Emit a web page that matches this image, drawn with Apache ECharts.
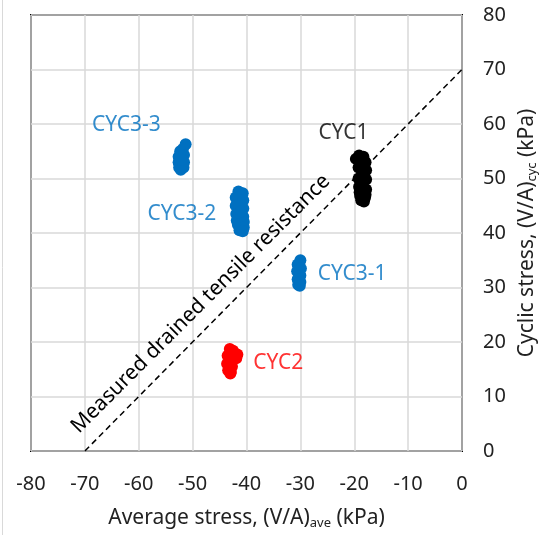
<!DOCTYPE html>
<html><head><meta charset="utf-8">
<script src="https://cdn.jsdelivr.net/npm/echarts@6/dist/echarts.min.js"></script>
<style>html,body{margin:0;padding:0;background:#fff}#c{width:551px;height:535px}</style>
</head><body><div id="c"></div>
<script>
// Tick labels / axis ranges
const xTicks = [-80,-70,-60,-50,-40,-30,-20,-10,0];
const yTicks = [0,10,20,30,40,50,60,70,80];

// Series data (average stress x, cyclic stress y)
const cyc1X = [-19.7,-19.1,-18.3,-17.9,-19.2,-17.8,-19.2,-17.8,-19.1,-17.8,-19.0,-17.9,-18.9,-18.0,-18.7,-18.2,-18.5,-18.5];
const cyc1Y = [53.6,54.2,54.0,53.0,52.0,51.5,50.0,49.8,48.5,48.0,47.5,47.0,46.8,46.5,46.0,45.8,50.5,48.0];
const cyc2X = [-43.1,-42.5,-41.7,-41.9,-43.5,-42.8,-43.6,-42.7,-43.4,-42.9,-43.0];
const cyc2Y = [18.7,18.4,17.7,17.0,17.5,16.5,16.0,15.5,14.8,14.5,14.2];
const cyc31X = [-30.0,-30.5,-29.9,-30.6,-30.0,-30.5,-30.0,-30.4,-30.1];
const cyc31Y = [35.0,34.2,33.5,33.0,32.2,31.5,31.0,30.5,30.3];
const cyc32X = [-41.5,-40.7,-42.0,-40.6,-42.0,-40.6,-41.9,-40.6,-41.8,-40.5,-41.6,-40.5,-41.3,-40.7,-41.0];
const cyc32Y = [47.6,47.3,46.5,46.0,45.0,44.5,43.5,43.0,42.3,42.0,41.5,41.0,40.5,40.3,44.0];
const cyc33X = [-51.3,-51.8,-52.3,-52.6,-51.6,-52.6,-51.6,-52.5,-51.7,-52.2,-52.0];
const cyc33Y = [56.3,55.4,55.0,54.0,54.3,53.0,53.0,52.0,52.0,51.6,53.5];

// Measured drained tensile resistance line
const resistX = [-70, 0];
const resistY = [0, 70];

// Cluster labels: [name, x, y]
const labelNames = ['CYC1','CYC2','CYC3-1','CYC3-2','CYC3-3'];
const labelX = [-22.0,-34.1,-20.4,-52.0,-62.3];
const labelY = [58.4,16.1,32.5,43.5,59.9];
const labelColors = ['#000000','#ff0000','#0070c0','#0070c0','#0070c0'];

const FONT = 'Noto Sans';
const zip = (a,b) => a.map((v,i)=>[v,b[i]]);

const chart = echarts.init(document.getElementById('c'));
function sc(name, xs, ys, color){
  return {name, type:'scatter', data: zip(xs,ys), symbolSize: 12,
    itemStyle:{color, opacity:1}, z:3, silent:true};
}
const option = {
  animation:false,
  textStyle:{fontFamily:FONT},
  grid:{left:31, right:89, top:15, bottom:82, show:true, borderColor:'#000', borderWidth:2, backgroundColor:'transparent'},
  xAxis:{type:'value', min:-80, max:0, interval:10,
    axisLine:{show:false}, axisTick:{show:false},
    splitLine:{show:true, lineStyle:{color:'#d9d9d9', width:1.5}},
    axisLabel:{fontSize:20, color:'#222', margin:23, fontFamily:FONT},
    name:'Average stress, (V/A){sub|ave} (kPa)', nameLocation:'middle', nameGap:56,
    nameTextStyle:{fontSize:21, color:'#222', fontFamily:FONT, rich:{sub:{fontSize:13, verticalAlign:'bottom', padding:[10,0,0,0], color:'#222'}}}
  },
  yAxis:{type:'value', position:'right', min:0, max:80, interval:10,
    axisLine:{show:false}, axisTick:{show:false},
    splitLine:{show:true, lineStyle:{color:'#d9d9d9', width:1.5}},
    axisLabel:{fontSize:20, color:'#222', margin:21, fontFamily:FONT},
    name:'Cyclic stress, (V/A){sub|cyc} (kPa)', nameLocation:'middle', nameGap:54, nameRotate:90,
    nameTextStyle:{fontSize:21, color:'#222', fontFamily:FONT, rich:{sub:{fontSize:13, verticalAlign:'bottom', padding:[10,0,0,0], color:'#222'}}}
  },
  series:[
    {type:'line', data: zip(resistX,resistY), symbol:'none', silent:true, z:2,
      lineStyle:{color:'#000', width:1.5, type:[6,4]}},
    sc('CYC1', cyc1X, cyc1Y, '#000000'),
    sc('CYC2', cyc2X, cyc2Y, '#ff0000'),
    sc('CYC3-1', cyc31X, cyc31Y, '#0070c0'),
    sc('CYC3-2', cyc32X, cyc32Y, '#0070c0'),
    sc('CYC3-3', cyc33X, cyc33Y, '#0070c0'),
    {type:'scatter', symbolSize:0, silent:true, z:4,
      data: labelNames.map((n,i)=>({value:[labelX[i],labelY[i]],
        label:{show:true, position:'inside', formatter:n, fontSize:21, fontFamily:FONT, color:labelColors[i]}}))}
  ]
};
chart.setOption(option);
const p = chart.convertToPixel({gridIndex:0}, [-48.5, 27.0]);
chart.setOption({graphic:[
  {type:'line', shape:{x1:2.5,y1:0,x2:2.5,y2:535}, style:{stroke:'#d9d9d9', lineWidth:1}},
  {type:'text', x:p[0], y:p[1], rotation:Math.PI/4,
   style:{text:'Measured drained tensile resistance', font:'21px "Noto Sans"', fill:'#000', align:'center', verticalAlign:'middle'}}
]});
</script></body></html>
